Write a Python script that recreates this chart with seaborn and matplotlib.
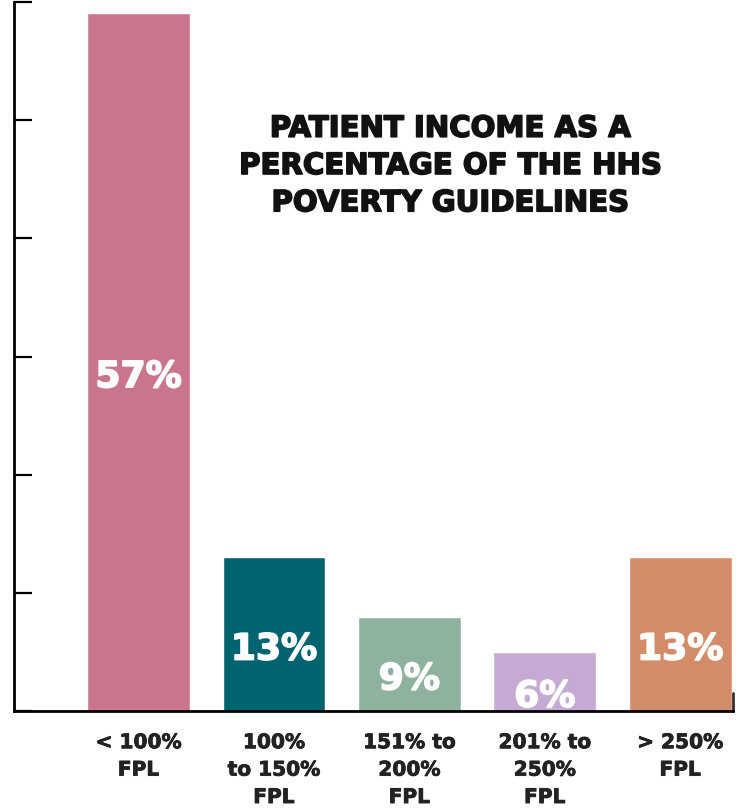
import matplotlib
matplotlib.use("Agg")
import matplotlib.pyplot as plt
import matplotlib.patheffects as pe
import seaborn as sns
import pandas as pd

categories = ["< 100%\nFPL", "100%\nto 150%\nFPL", "151% to\n200%\nFPL", "201% to\n250%\nFPL", "> 250%\nFPL"]
bar_heights = [59.1, 13.0, 7.95, 5.0, 13.0]
value_labels = ["57%", "13%", "9%", "6%", "13%"]
colors = ["#C9758C", "#006470", "#8FB29E", "#C5AAD3", "#D38C69"]
y_ticks = [0, 10, 20, 30, 40, 50, 60]

sns.set_style("white")
plt.rcParams["font.family"] = ["DejaVu Sans"]

df = pd.DataFrame({"cat": categories, "val": bar_heights})

fig = plt.figure(figsize=(7.38, 8.09), dpi=100)
ax = fig.add_axes([14/738, 98/809, 719/738, 709/809])
sns.barplot(data=df, x="cat", y="val", hue="cat", palette=colors, legend=False,
            width=0.76, saturation=1, ax=ax)

ax.set_xlim(-0.92, 4.39)
ax.set_ylim(0, 60)
ax.set_yticks(y_ticks)
ax.set_yticklabels([])
ax.set_xlabel("")
ax.set_ylabel("")
ax.tick_params(axis="y", direction="in", length=13, width=1.6, color="black", left=True)
ax.tick_params(axis="x", length=0, pad=16)
for lab in ax.get_xticklabels():
    lab.set_fontsize(14.5)
    lab.set_fontweight("bold")
    lab.set_color("#222222")
    lab.set_linespacing(1.56)
    lab.set_verticalalignment("top")
    lab.set_path_effects([pe.withStroke(linewidth=0.6, foreground="#222222")])

for s in ["top", "right"]:
    ax.spines[s].set_visible(False)
for s in ["left", "bottom"]:
    ax.spines[s].set_linewidth(2.0)
    ax.spines[s].set_color("black")
ax.axvline(4.39, ymin=0, ymax=18/709, color="#333333", lw=2, clip_on=False)

for i, (h, t) in enumerate(zip(bar_heights, value_labels)):
    ax.text(i, h / 2 - 1.3, t, ha="center", va="center", color="white",
            fontsize=26, fontweight="bold",
            path_effects=[pe.withStroke(linewidth=1.2, foreground="white")])

fig.text(450/738, 1 - 166/809,
         "PATIENT INCOME AS A\nPERCENTAGE OF THE HHS\nPOVERTY GUIDELINES",
         ha="center", va="center", fontsize=21, fontweight="bold",
         color="#111111", linespacing=1.42,
         path_effects=[pe.withStroke(linewidth=1.2, foreground="#111111")])

fig.savefig("out.png", dpi=100)
